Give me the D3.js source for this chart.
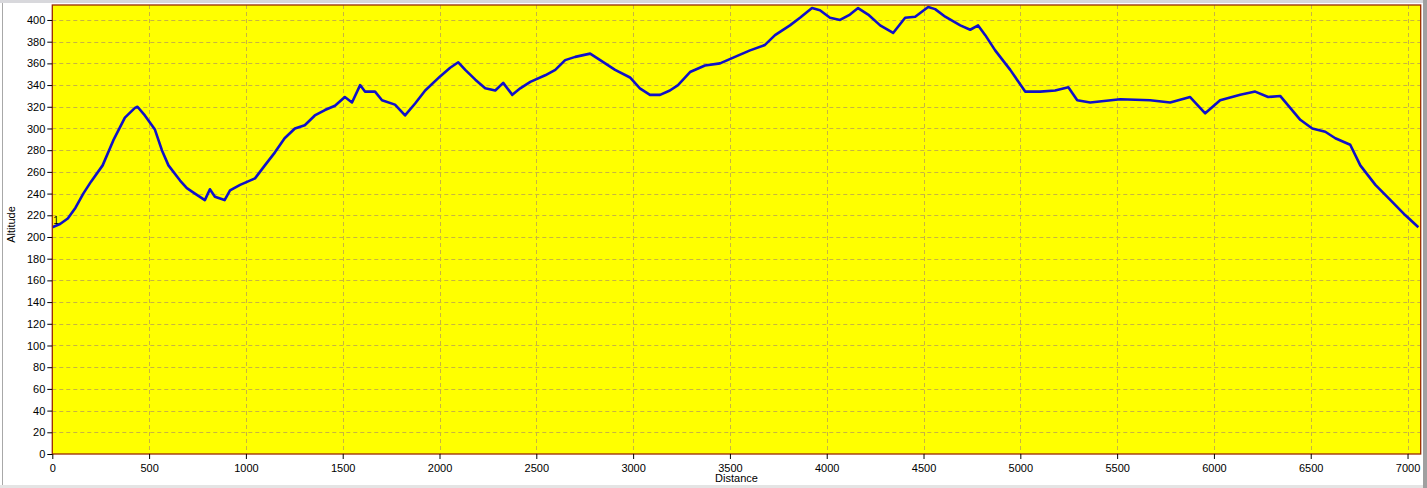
<!DOCTYPE html>
<html>
<head>
<meta charset="utf-8">
<script src="https://cdn.jsdelivr.net/npm/d3@7"></script>
<style>
html,body{margin:0;padding:0;background:#fff;}
svg{display:block;}
text{font-family:"Liberation Sans",Arial,sans-serif;}
</style>
</head>
<body>
<svg id="c" width="1427" height="488"></svg>
<script>
const distance = [0,40,80,120,160,200,260,315,375,427,440,478,530,566,600,660,695,737,788,814,840,890,918,970,1047,1098,1150,1200,1253,1304,1356,1408,1460,1511,1548,1590,1615,1667,1703,1770,1822,1874,1926,2003,2055,2097,2133,2185,2236,2288,2329,2376,2417,2469,2546,2598,2649,2701,2778,2830,2907,2984,3035,3087,3139,3190,3232,3294,3371,3449,3526,3604,3681,3733,3810,3862,3924,3965,4017,4069,4120,4162,4214,4276,4343,4405,4457,4524,4560,4612,4690,4741,4782,4819,4870,4948,5025,5103,5180,5248,5294,5361,5516,5671,5774,5877,5955,6032,6136,6213,6280,6342,6394,6446,6508,6575,6627,6704,6756,6834,6912,6989,7056];
const altitude = [209,212,217,227,240,251,266,289,310,319,320,312,299,280,266,252,245,240,234,244,237,234,243,248,254,266,278,291,300,303,312,317,321,329,324,340,334,334,326,322,312,323,335,348,356,361,354,345,337,335,342,331,337,343,349,354,363,366,369,363,354,347,337,331,331,335,340,352,358,360,366,372,377,386,395,402,411,409,402,400,405,411,405,395,388,402,403,412,410,403,395,391,395,386,372,354,334,334,335,338,326,324,327,326,324,329,314,326,331,334,329,330,319,308,300,297,291,285,266,248,234,220,209];
const xTicks = [0,500,1000,1500,2000,2500,3000,3500,4000,4500,5000,5500,6000,6500,7000];
const yTicks = [0,20,40,60,80,100,120,140,160,180,200,220,240,260,280,300,320,340,360,380,400];
const xTitle = "Distance";
const yTitle = "Altitude";
const pointLabel = "1";

const svg = d3.select("#c");
const L = 52.3, R = 1420.7, T = 5, B = 454;
const x = d3.scaleLinear().domain([0, 7068]).range([L, R]);
const y = d3.scaleLinear().domain([0, 413.8]).range([B, T]);

// window frame
svg.append("rect").attr("x",0).attr("y",0).attr("width",1427).attr("height",3).attr("fill","#d8d8dc");
svg.append("line").attr("x1",2.5).attr("x2",2.5).attr("y1",3).attr("y2",485).attr("stroke","#a8a8a8");
svg.append("rect").attr("x",0).attr("y",485).attr("width",1427).attr("height",3).attr("fill","#e4e4e4");
svg.append("rect").attr("x",1423).attr("y",0).attr("width",4).attr("height",488).attr("fill","#a0a0a0");

// plot area
svg.append("rect").attr("x",L).attr("y",T).attr("width",R-L).attr("height",B-T).attr("fill","#ffff00");

// grid
const g = svg.append("g");
g.selectAll(".gy").data(yTicks.filter(d=>d>0)).join("line")
  .attr("x1",L).attr("x2",R).attr("y1",d=>Math.round(y(d))+0.5).attr("y2",d=>Math.round(y(d))+0.5)
  .attr("stroke","#c8b440").attr("stroke-dasharray","4,3").attr("stroke-width",1);
g.selectAll(".gx").data(xTicks.filter(d=>d>0)).join("line")
  .attr("y1",T).attr("y2",B).attr("x1",d=>Math.round(x(d))+0.5).attr("x2",d=>Math.round(x(d))+0.5)
  .attr("stroke","#c8b440").attr("stroke-dasharray","4,3").attr("stroke-width",1);

// line
const line = d3.line().x((d,i)=>x(distance[i])).y((d,i)=>y(altitude[i]));
svg.append("path").datum(altitude).attr("d",line).attr("fill","none")
  .attr("stroke","#1010c8").attr("stroke-width",2.6).attr("stroke-linejoin","round");

svg.append("text").attr("x",x(0)+1).attr("y",y(altitude[0])-3).attr("font-size",10).attr("fill","#000").text(pointLabel);

// border
svg.append("rect").attr("x",L).attr("y",T).attr("width",R-L).attr("height",B-T)
  .attr("fill","none").attr("stroke","#9a2a00").attr("stroke-width",1.3);

// axes
const ax = svg.append("g").attr("transform",`translate(0,${B})`)
  .call(d3.axisBottom(x).tickValues(xTicks).tickSize(5).tickFormat(d3.format("d")));
const ay = svg.append("g").attr("transform",`translate(${L},0)`)
  .call(d3.axisLeft(y).tickValues(yTicks).tickSize(5).tickPadding(2).tickFormat(d3.format("d")));
[ax, ay].forEach(a=>{
  a.select(".domain").remove();
  a.selectAll(".tick line").attr("stroke","#000");
  a.selectAll(".tick text").attr("font-size",11).attr("fill","#000").attr("font-family","'Liberation Sans',Arial,sans-serif");
});
ax.selectAll(".tick text").attr("dy","0.9em");

svg.append("text").attr("x",(L+R)/2).attr("y",482).attr("text-anchor","middle").attr("font-size",11).text(xTitle);
svg.append("text").attr("transform",`translate(15,${(T+B)/2 - 5}) rotate(-90)`).attr("text-anchor","middle").attr("font-size",11).text(yTitle);
</script>
</body>
</html>
